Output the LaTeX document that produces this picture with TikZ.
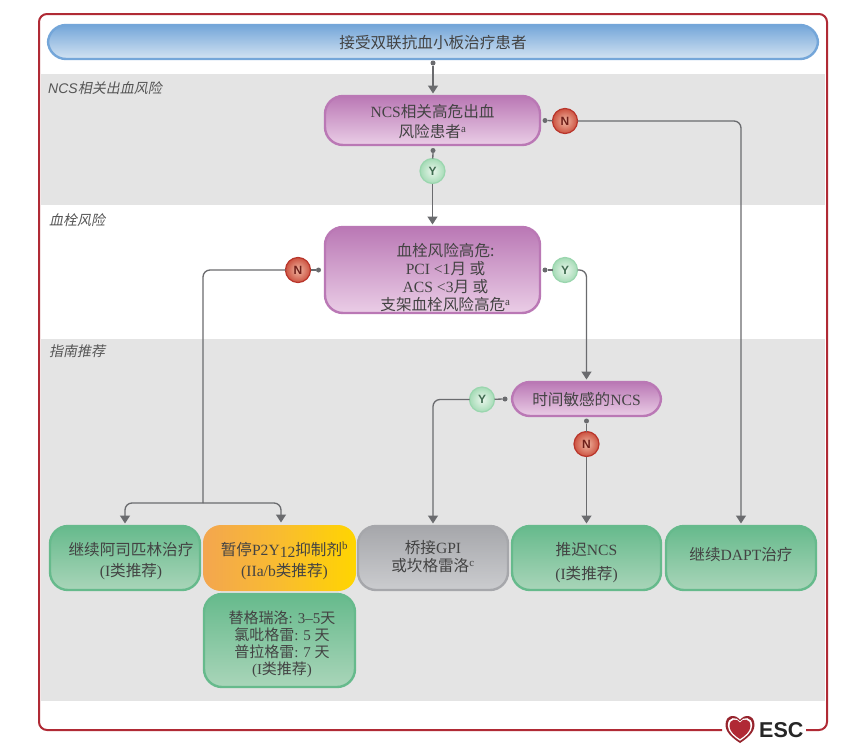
\documentclass[tikz,border=0pt]{standalone}
\usepackage{fontspec}
\usetikzlibrary{arrows.meta,calc}
\setmainfont{Liberation Serif}
\newfontfamily\cjkf{Noto Sans CJK SC}
\newfontfamily\cjkit[FakeSlant=0.2]{Noto Sans CJK SC}
\newfontfamily\lsans{Liberation Sans}
\newcommand\cn[1]{{\cjkf #1}}
\newcommand\ci[1]{{\cjkit #1}}
\newcommand\tx[3]{\raisebox{\dimexpr#1-6pt\relax}[0pt][0pt]{\fontsize{15.6}{#2}\selectfont\begin{tabular}{@{}c@{}}#3\end{tabular}}}
\newcommand\txs[3]{\raisebox{\dimexpr#1-6pt\relax}[0pt][0pt]{\fontsize{15}{#2}\selectfont\begin{tabular}{@{}c@{}}#3\end{tabular}}}
\definecolor{txt}{HTML}{434343}
\definecolor{band}{HTML}{E4E4E4}
\definecolor{frameR}{HTML}{B02A35}
\definecolor{conn}{HTML}{6A6B6E}
\tikzset{
  box/.style={rectangle,rounded corners=18pt,line width=2.4pt,outer sep=0pt,inner sep=0pt,text=txt},
  blue/.style={box,draw=HB,top color=HB,bottom color=HBl},
  purple/.style={box,draw=HP,top color=HP,bottom color=HPl},
  green/.style={box,draw=HG,top color=HG,bottom color=HGl},
  gray/.style={box,draw=HK,top color=HK,bottom color=HKl},
  orange/.style={box,draw=none,left color=HOa,right color=HOb,middle color=HOm},
  ball/.style={circle,minimum size=25pt,inner sep=0pt,outer sep=0pt,line width=1.2pt,font=\lsans\bfseries\fontsize{12}{12}\selectfont},
  yes/.style={ball,draw=HYb,inner color=HYi,outer color=HYo,text=HYt},
  no/.style={ball,draw=HNb,inner color=HNi,outer color=HNo,text=HNt},
  dotn/.style={circle,fill=conn,minimum size=5pt,inner sep=0pt,outer sep=0pt},
  wire/.style={draw=conn,line width=1.3pt,rounded corners=7pt},
  arr/.style={wire,-{Triangle[width=10pt,length=8pt]},shorten >=2.5pt},
  lane/.style={anchor=west,text=HL,font=\fontsize{14}{16}\selectfont,inner sep=0pt},
}
\definecolor{HB}{HTML}{74A6D9}\definecolor{HBl}{HTML}{D3E3F2}
\definecolor{HP}{HTML}{BA78B5}\definecolor{HPl}{HTML}{EACDE6}
\definecolor{HG}{HTML}{66BA8C}\definecolor{HGl}{HTML}{A9D5B9}
\definecolor{HK}{HTML}{A6A7AB}\definecolor{HKl}{HTML}{CBCCCF}
\definecolor{HOa}{HTML}{F3A64F}\definecolor{HOm}{HTML}{F9BC30}\definecolor{HOb}{HTML}{FFD500}
\definecolor{HYb}{HTML}{9AD6AE}\definecolor{HYi}{HTML}{EAF6EC}\definecolor{HYo}{HTML}{A5DBB6}\definecolor{HYt}{HTML}{3F6B50}
\definecolor{HNb}{HTML}{B9352B}\definecolor{HNi}{HTML}{F0B7A3}\definecolor{HNo}{HTML}{CC5240}\definecolor{HNt}{HTML}{6E1F1A}
\definecolor{HL}{HTML}{555555}
\begin{document}
\begin{tikzpicture}[x=1pt,y=-1pt]
\path[use as bounding box,fill=white] (0,0) rectangle (860,753);
% bands
\fill[band] (41,74) rectangle (825,205);
\fill[band] (41,339) rectangle (825,701);
% frame
\draw[frameR,line width=2pt,rounded corners=8pt] (722,730) -- (39,730) -- (39,14) -- (827,14) -- (827,730) -- (806,730);
% lane labels
\node[lane] (l1) at (48,88) {{\lsans\itshape NCS}\ci{相关出血风险}};
\node[lane] (l2) at (49,220) {\ci{血栓风险}};
\node[lane] (l3) at (49,351) {\ci{指南推荐}};
% boxes
\node[blue,minimum width=770pt,minimum height=34pt] (top) at (433,42) {\tx{0pt}{17}{\cn{接受双联抗血小板治疗患者}}};
\node[purple,minimum width=215pt,minimum height=49pt] (b1) at (432.5,120.5) {\tx{-1pt}{20}{NCS\cn{相关高危出血}\\\cn{风险患者}\textsuperscript{a}}};
\node[purple,minimum width=215pt,minimum height=86pt] (b2) at (432.5,270) {\hspace*{26pt}\tx{-7pt}{16.3}{\cn{血栓风险高危:}\\PCI <1\cn{月 或}\\ACS <3\cn{月 或}\\\cn{支架血栓风险高危}\textsuperscript{a}}};
\node[purple,minimum width=149pt,minimum height=34pt] (b3) at (586.5,399) {\tx{0pt}{17}{\cn{时间敏感的}NCS}};
\node[green,minimum width=150pt,minimum height=64pt] (g1) at (125,558) {\hspace*{12pt}\tx{-1pt}{21}{\cn{继续阿司匹林治疗}\\(I\cn{类推荐})}};
\node[orange,minimum width=153pt,minimum height=66pt] (o1) at (279.5,558) {\hspace*{10pt}\tx{-1pt}{21}{\cn{暂停}P2Y\raisebox{-2pt}{12}\cn{抑制剂}\textsuperscript{b}\\(IIa/b\cn{类推荐})}};
\node[green,minimum width=151pt,minimum height=93pt] (g2) at (279.5,640.5) {\hspace*{5pt}\txs{-2pt}{15}{\cn{替格瑞洛}: 3–5\cn{天}\\\cn{氯吡格雷}: 5 \cn{天}\\\cn{普拉格雷}: 7 \cn{天}\\(I\cn{类推荐})}};
\node[gray,minimum width=150pt,minimum height=64pt] (k1) at (433,558) {\tx{2pt}{15.5}{\cn{桥接}GPI\\\cn{或坎格雷洛}\textsuperscript{c}}};
\node[green,minimum width=149pt,minimum height=64pt] (g3) at (586.5,558) {\tx{-2pt}{24}{\cn{推迟}NCS\\(I\cn{类推荐})}};
\node[green,minimum width=150pt,minimum height=64pt] (g4) at (741,558) {\tx{4pt}{17}{\cn{继续}DAPT\cn{治疗}}};
% decisions
\node[yes] (y1) at (432.5,171) {Y};
\node[no]  (n1) at (565,121) {N};
\node[no]  (n2) at (298,270) {N};
\node[yes] (y2) at (565,270) {Y};
\node[yes] (y3) at (482,399.5) {Y};
\node[no]  (n3) at (586.5,444) {N};
% dots
\node[dotn] (d0) at (433,63) {};
\node[dotn] (d1) at (433,150.5) {};
\node[dotn] (d2) at (545,120.5) {};
\node[dotn] (d3) at (318.5,270) {};
\node[dotn] (d4) at (545,270) {};
\node[dotn] (d5) at (505,399) {};
\node[dotn] (d6) at (586.5,421) {};
\coordinate (split) at (203,503);
% connectors
\draw[arr] (d0) -- (b1.north -| d0);
\draw[wire] (d1) -- (y1);
\draw[arr] (y1) -- (b2.north -| y1);
\draw[wire] (d2) -- (n1);
\draw[arr] (n1) -| (g4.north);
\draw[wire] (d3) -- (n2);
\draw[wire] (n2) -| (split);
\draw[arr] (split) -| (g1.north);
\draw[arr] (split) -| ($(o1.north)+(1.5,0)$);
\draw[wire] (d4) -- (y2);
\draw[arr] (y2) -| (b3.north);
\draw[wire] (d5) -- (y3);
\draw[arr] (y3) -| (k1.north);
\draw[wire] (d6) -- (n3);
\draw[arr] (n3) -- (g3.north);
% ESC logo
\begin{scope}[shift={(740,729)}]
\def\heartpath{(0,-9) .. controls (-4,-15) and (-14.5,-15) .. (-14.5,-4) .. controls (-14.5,4) and (-6,10) .. (0,14) .. controls (6,10) and (14.5,4) .. (14.5,-4) .. controls (14.5,-15) and (4,-15) .. (0,-9) -- cycle}
\fill[frameR!85!black] \heartpath;
\begin{scope}[scale=0.84]\fill[white] \heartpath;\end{scope}
\begin{scope}[scale=0.72]\fill[frameR] \heartpath;\end{scope}
\end{scope}
\node[inner sep=0pt,anchor=west,font=\lsans\bfseries\fontsize{21.5}{22}\selectfont,text=black!85] (esc) at (759,730.5) {ESC};
\end{tikzpicture}
\end{document}
